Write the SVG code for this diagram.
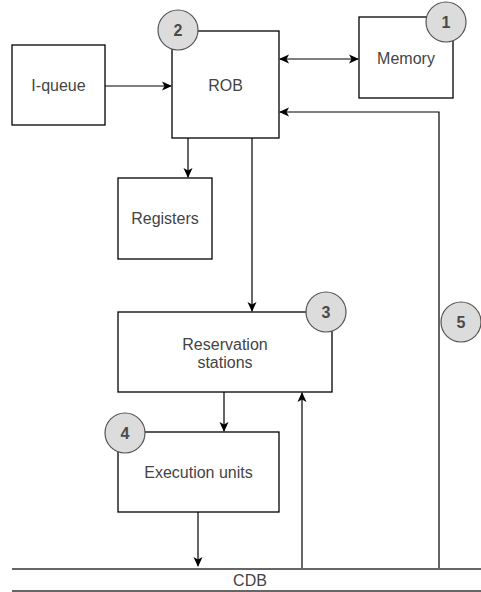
<svg xmlns="http://www.w3.org/2000/svg" width="481" height="592" viewBox="0 0 481 592">
  <style>
    .box { fill: #ffffff; stroke: #000000; stroke-width: 1.3; }
    .lbl { font-family: "Liberation Sans", Arial, sans-serif; font-size: 16px; fill: #444444; text-anchor: middle; dominant-baseline: central; }
    .badge circle { fill: #dcdcdc; stroke: #555555; stroke-width: 1.2; }
    .badge text { font-family: "Liberation Sans", Arial, sans-serif; font-size: 16px; font-weight: bold; fill: #4a4a4a; text-anchor: middle; dominant-baseline: central; }
    .wire { fill: none; stroke: #000000; stroke-width: 1.2; }
    .bus { fill: none; stroke: #333333; stroke-width: 1.3; }
  </style>
  <defs>
    <marker id="arrow" viewBox="0 0 10 10" refX="9" refY="5" markerWidth="10" markerHeight="10" markerUnits="userSpaceOnUse" orient="auto-start-reverse">
      <path d="M0,0.5 L10,5 L0,9.5 L2.5,5 Z" fill="#000000"/>
    </marker>
  </defs>

  <rect width="481" height="592" fill="#ffffff"/>

  <!-- connectors -->
  <g id="connectors">
    <path class="wire" d="M105,86 L171,86" marker-end="url(#arrow)"/>
    <path class="wire" d="M280,59 L358,59" marker-start="url(#arrow)" marker-end="url(#arrow)"/>
    <path class="wire" d="M439,568 L439,112 L280,112" marker-end="url(#arrow)"/>
    <path class="wire" d="M188,138 L188,177" marker-end="url(#arrow)"/>
    <path class="wire" d="M252,138 L252,311" marker-end="url(#arrow)"/>
    <path class="wire" d="M224,392 L224,431" marker-end="url(#arrow)"/>
    <path class="wire" d="M302,568 L302,393" marker-end="url(#arrow)"/>
    <path class="wire" d="M198,512 L198,566" marker-end="url(#arrow)"/>
  </g>

  <!-- common data bus -->
  <g id="cdb">
    <line class="bus" x1="12" y1="569" x2="481" y2="569"/>
    <line class="bus" x1="12" y1="591" x2="481" y2="591"/>
    <text class="lbl" x="250" y="580">CDB</text>
  </g>

  <g id="iqueue">
    <rect class="box" x="12" y="45" width="93" height="80"/>
    <text class="lbl" x="58.5" y="85">I-queue</text>
  </g>

  <g id="rob">
    <rect class="box" x="172" y="31" width="107" height="107"/>
    <text class="lbl" x="225.5" y="85">ROB</text>
  </g>

  <g id="memory">
    <rect class="box" x="359" y="17" width="94" height="81"/>
    <text class="lbl" x="406" y="58">Memory</text>
  </g>

  <g id="registers">
    <rect class="box" x="118" y="178" width="94" height="81"/>
    <text class="lbl" x="165" y="218">Registers</text>
  </g>

  <g id="reservation">
    <rect class="box" x="118" y="312" width="214" height="80"/>
    <text class="lbl" x="225" y="344">Reservation</text>
    <text class="lbl" x="225" y="362">stations</text>
  </g>

  <g id="execution">
    <rect class="box" x="118" y="432" width="161" height="80"/>
    <text class="lbl" x="198.5" y="472">Execution units</text>
  </g>

  <!-- numbered badges -->
  <g id="badge1" class="badge">
    <circle cx="446" cy="22" r="20"/>
    <text x="446" y="22">1</text>
  </g>
  <g id="badge2" class="badge">
    <circle cx="178" cy="30" r="20"/>
    <text x="178" y="30">2</text>
  </g>
  <g id="badge3" class="badge">
    <circle cx="326" cy="312" r="20"/>
    <text x="326" y="312">3</text>
  </g>
  <g id="badge4" class="badge">
    <circle cx="125" cy="433" r="20"/>
    <text x="125" y="433">4</text>
  </g>
  <g id="badge5" class="badge">
    <circle cx="461" cy="322" r="20"/>
    <text x="461" y="322">5</text>
  </g>
</svg>
